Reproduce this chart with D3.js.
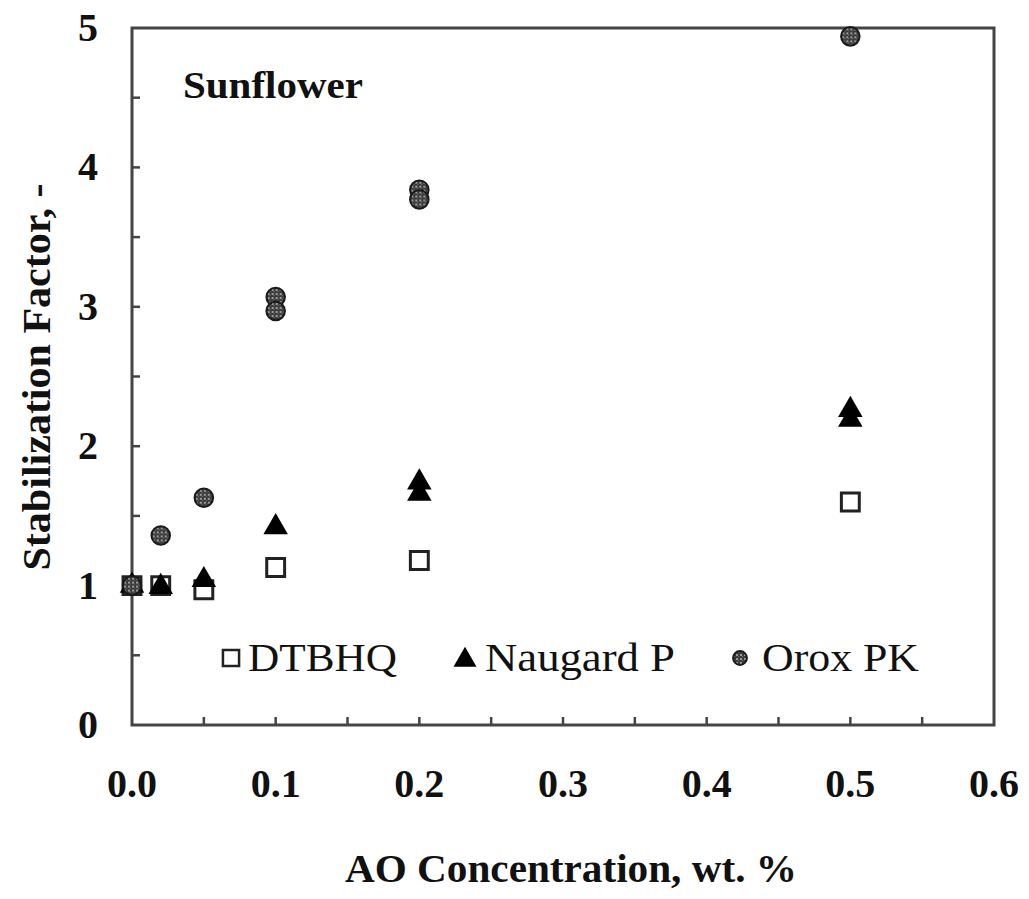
<!DOCTYPE html>
<html>
<head>
<meta charset="utf-8">
<script src="https://cdn.jsdelivr.net/npm/d3@7"></script>
<style>
  body { margin: 0; background: #fff; }
  svg { display: block; }
  text { font-family: "Liberation Serif", "Times New Roman", serif; fill: #111; }
</style>
</head>
<body>
<div id="chart"></div>
<script>
// values (AO concentration in wt. %, stabilization factor)
const dtbhqX = [0, 0.02, 0.05, 0.1, 0.2, 0.5];
const dtbhqY = [1.0, 1.0, 0.97, 1.13, 1.18, 1.6];

const naugardX = [0, 0.02, 0.05, 0.1, 0.2, 0.2, 0.5, 0.5];
const naugardY = [1.0, 0.99, 1.04, 1.42, 1.74, 1.66, 2.26, 2.19];

const oroxX = [0, 0.02, 0.05, 0.1, 0.1, 0.2, 0.2, 0.5];
const oroxY = [1.0, 1.36, 1.63, 3.07, 2.97, 3.84, 3.77, 4.94];

const seriesNames = ["DTBHQ", "Naugard P", "Orox PK"];
const xTicks = [0, 0.1, 0.2, 0.3, 0.4, 0.5, 0.6];
const yTicks = [0, 1, 2, 3, 4, 5];

const width = 1029, height = 899;
const plotLeft = 132, plotRight = 994, plotTop = 28, plotBottom = 725;

const svg = d3.select("#chart").append("svg")
    .attr("width", width)
    .attr("height", height);

// speckled dark grey fill for the Orox PK circles
const defs = svg.append("defs");
const pat = defs.append("pattern")
    .attr("id", "speckle")
    .attr("patternUnits", "userSpaceOnUse")
    .attr("width", 4).attr("height", 4);
pat.append("rect").attr("width", 4).attr("height", 4).attr("fill", "#3a3a3a");
pat.append("rect").attr("x", 0).attr("y", 0).attr("width", 2).attr("height", 2).attr("fill", "#999");
pat.append("rect").attr("x", 2).attr("y", 2).attr("width", 1).attr("height", 1).attr("fill", "#777");

const x = d3.scaleLinear().domain([0, 0.6]).range([plotLeft, plotRight]);
const y = d3.scaleLinear().domain([0, 5]).range([plotBottom, plotTop]);

// frame
svg.append("rect")
    .attr("x", plotLeft).attr("y", plotTop)
    .attr("width", plotRight - plotLeft).attr("height", plotBottom - plotTop)
    .attr("fill", "none")
    .attr("stroke", "#444")
    .attr("stroke-width", 3);

// inward ticks
svg.append("g")
    .selectAll("line")
    .data(d3.range(1, 12).map(i => i * 0.05))
    .join("line")
    .attr("x1", d => x(d)).attr("x2", d => x(d))
    .attr("y1", plotBottom).attr("y2", plotBottom - 8)
    .attr("stroke", "#444").attr("stroke-width", 2.5);

svg.append("g")
    .selectAll("line")
    .data(d3.range(1, 10).map(i => i * 0.5))
    .join("line")
    .attr("x1", plotLeft).attr("x2", plotLeft + 8)
    .attr("y1", d => y(d)).attr("y2", d => y(d))
    .attr("stroke", "#444").attr("stroke-width", 2.5);

// tick labels
svg.append("g")
    .selectAll("text")
    .data(xTicks)
    .join("text")
    .attr("x", d => x(d))
    .attr("y", 797)
    .attr("text-anchor", "middle")
    .attr("font-size", 40)
    .attr("font-weight", "bold")
    .text(d => d3.format(".1f")(d));

svg.append("g")
    .selectAll("text")
    .data(yTicks)
    .join("text")
    .attr("x", 98)
    .attr("y", d => y(d) + 13)
    .attr("text-anchor", "end")
    .attr("font-size", 40)
    .attr("font-weight", "bold")
    .text(d => d);

// axis titles
svg.append("text")
    .attr("x", 571).attr("y", 882)
    .attr("text-anchor", "middle")
    .attr("font-size", 40)
    .attr("font-weight", "bold")
    .attr("textLength", 452)
    .attr("lengthAdjust", "spacingAndGlyphs")
    .text("AO Concentration, wt. %");

svg.append("text")
    .attr("transform", "translate(50,377) rotate(-90)")
    .attr("text-anchor", "middle")
    .attr("font-size", 40)
    .attr("font-weight", "bold")
    .attr("textLength", 387)
    .attr("lengthAdjust", "spacingAndGlyphs")
    .text("Stabilization Factor, -");

svg.append("text")
    .attr("x", 183).attr("y", 98)
    .attr("font-size", 38)
    .attr("font-weight", "bold")
    .attr("textLength", 180)
    .attr("lengthAdjust", "spacingAndGlyphs")
    .text("Sunflower");

// markers
const square = d3.symbol().type(d3.symbolSquare).size(320);
const triangle = d3.symbol().type(d3.symbolTriangle).size(260);
const circle = d3.symbol().type(d3.symbolCircle).size(270);

const dtbhq = dtbhqX.map((v, i) => ({x: v, y: dtbhqY[i]}));
const naugard = naugardX.map((v, i) => ({x: v, y: naugardY[i]}));
const orox = oroxX.map((v, i) => ({x: v, y: oroxY[i]}));

svg.append("g")
    .selectAll("path")
    .data(dtbhq)
    .join("path")
    .attr("d", square)
    .attr("transform", d => `translate(${x(d.x)},${y(d.y)})`)
    .attr("fill", "#fff")
    .attr("stroke", "#222")
    .attr("stroke-width", 3);

svg.append("g")
    .selectAll("path")
    .data(naugard)
    .join("path")
    .attr("d", triangle)
    .attr("transform", d => `translate(${x(d.x)},${y(d.y)})`)
    .attr("fill", "#000");

svg.append("g")
    .selectAll("path")
    .data(orox)
    .join("path")
    .attr("d", circle)
    .attr("transform", d => `translate(${x(d.x)},${y(d.y)})`)
    .attr("fill", "url(#speckle)")
    .attr("stroke", "#1a1a1a")
    .attr("stroke-width", 2);

// legend
const legend = [
    {name: seriesNames[0], sx: 231, tx: 248, len: 149},
    {name: seriesNames[1], sx: 465, tx: 485, len: 190},
    {name: seriesNames[2], sx: 740, tx: 762, len: 157}
];
const lg = svg.append("g");
lg.append("path").attr("d", d3.symbol().type(d3.symbolSquare).size(260))
    .attr("transform", `translate(${legend[0].sx},658)`)
    .attr("fill", "#fff").attr("stroke", "#222").attr("stroke-width", 2.5);
lg.append("path").attr("d", d3.symbol().type(d3.symbolTriangle).size(230))
    .attr("transform", `translate(${legend[1].sx},660)`)
    .attr("fill", "#000");
lg.append("path").attr("d", d3.symbol().type(d3.symbolCircle).size(150))
    .attr("transform", `translate(${legend[2].sx},658)`)
    .attr("fill", "url(#speckle)").attr("stroke", "#1a1a1a").attr("stroke-width", 2);

lg.selectAll("text")
    .data(legend)
    .join("text")
    .attr("x", d => d.tx)
    .attr("y", 671)
    .attr("font-size", 40)
    .attr("textLength", d => d.len)
    .attr("lengthAdjust", "spacingAndGlyphs")
    .text(d => d.name);
</script>
</body>
</html>
